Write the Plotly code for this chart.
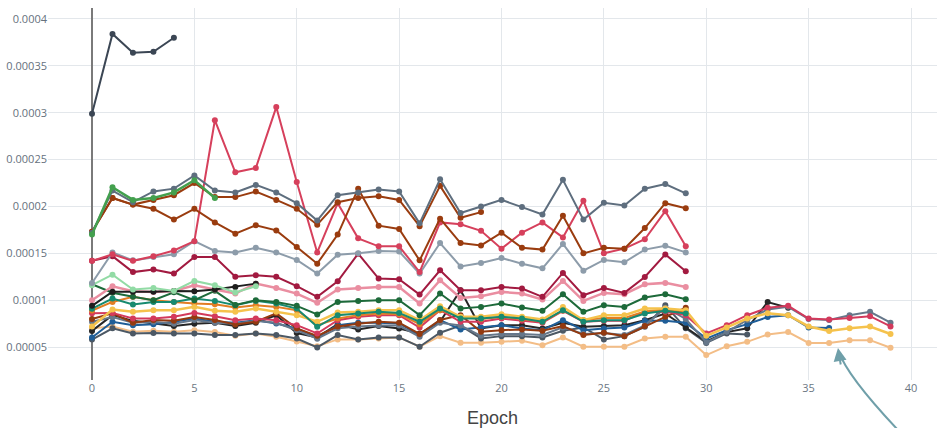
import plotly.graph_objects as go

SCALE = 1e-5  # all series values below are in units of 1e-5

epochs_5 = [0, 1, 2, 3, 4]
epochs_7 = [0, 1, 2, 3, 4, 5, 6]
epochs_9 = [0, 1, 2, 3, 4, 5, 6, 7, 8]
epochs_20 = list(range(20))
epochs_30 = list(range(30))
epochs_33 = list(range(33))
epochs_35 = list(range(35))
epochs_37 = list(range(37))
epochs_40 = list(range(40))

top_dark = [29.9, 38.4, 36.4, 36.5, 38.0]
green_bright = [17.0, 22.05, 20.7, 20.9, 21.5, 22.8, 20.9]
slate = [17.2, 21.7, 20.46, 21.6, 21.9, 23.3, 21.7, 21.5, 22.3, 21.5, 20.35,
         18.5, 21.2, 21.5, 21.8, 21.6, 18.2, 22.9, 19.3, 20.0, 20.7,
         19.93, 19.15, 22.84, 18.6, 20.4, 20.1, 21.9, 22.4, 21.4]
brown_a = [17.3, 20.9, 20.2, 20.7, 21.2, 22.5, 21.0, 21.0, 21.6, 20.7, 19.75,
           18.05, 20.46, 20.9, 21.1, 20.7, 17.9, 22.2, 18.8, 19.4]
brown_b = [17.3, 20.9, 20.2, 19.75, 18.6, 19.75, 18.3, 17.1, 18.0, 17.45, 15.67,
           13.9, 17.0, 21.9, 17.95, 17.6, 14.25, 18.7, 16.1, 15.85, 17.2,
           15.6, 15.4, 19.0, 15.0, 15.6, 15.5, 17.7, 20.35, 19.8]
red_spike = [14.2, 14.9, 14.2, 14.7, 15.3, 16.3, 29.2, 23.65, 24.1, 30.6, 22.6,
             15.1, 20.35, 16.6, 15.75, 15.75, 13.0, 18.3, 18.1, 17.4, 15.5,
             17.2, 18.3, 16.7, 20.6, 15.0, 15.5, 16.5, 19.5, 15.75]
light_gray = [11.84, 15.1, 14.25, 14.6, 14.9, 16.3, 15.25, 15.1, 15.6, 15.1, 14.3,
              12.84, 14.86, 15.0, 15.25, 15.2, 12.84, 16.1, 13.6, 13.97, 14.5,
              13.9, 13.4, 16.0, 13.15, 14.3, 14.05, 15.4, 15.8, 15.1]
maroon = [14.2, 14.7, 13.0, 13.27, 12.84, 14.6, 14.6, 12.5, 12.66, 12.5, 11.5,
          10.36, 12.02, 14.97, 12.31, 12.24, 10.6, 13.19, 11.07, 11.07, 11.42,
          11.24, 10.36, 12.91, 10.53, 11.31, 10.78, 12.48, 14.89, 13.09]
light_green = [11.6, 12.73, 11.14, 11.31, 10.99, 12.06, 11.6, 10.82, 11.49]
black = [9.4, 10.9, 10.9, 10.9, 10.99, 10.95, 11.14, 11.42, 11.77]
pink = [10.0, 11.49, 10.95, 10.89, 10.99, 11.6, 11.14, 10.71, 11.77, 11.31, 10.71,
        9.72, 11.14, 11.31, 11.42, 11.42, 9.65, 12.13, 10.25, 10.43, 10.89,
        10.71, 10.07, 12.06, 9.93, 10.78, 10.64, 11.7, 11.85, 11.42]
dark_green = [11.7, 10.8, 10.36, 10.0, 10.85, 10.0, 11.0, 9.5, 10.0, 9.82, 9.4,
              8.48, 9.82, 9.93, 10.0, 10.0, 8.41, 10.71, 9.11, 9.29, 9.65,
              9.22, 8.87, 10.64, 8.76, 9.47, 9.29, 10.28, 10.64, 10.11]
teal = [9.1, 10.18, 9.54, 9.82, 9.82, 10.18, 9.93, 9.47, 9.93, 9.65, 9.11,
        7.16, 8.41, 8.58, 8.76, 8.65, 7.7, 9.11, 8.05, 8.05, 8.23,
        8.05, 7.7, 8.94, 7.7, 7.87, 7.87, 8.58, 8.87, 8.58]
orange = [8.9, 9.82, 10.36, 10.0, 9.82, 9.65, 9.58, 9.22, 9.47, 9.29, 8.94,
          7.34, 8.05, 8.41, 8.58, 8.51, 7.45, 8.94, 8.2, 8.0, 8.2,
          8.0, 7.7, 8.9, 7.9, 8.1, 8.1, 8.8, 9.0, 8.8]
yellow = [7.2, 9.01, 8.76, 8.94, 8.94, 9.29, 8.87, 8.76, 9.11, 8.76, 8.41,
          7.7, 8.69, 8.76, 8.94, 8.94, 7.87, 9.36, 8.23, 8.23, 8.51,
          8.23, 7.94, 9.29, 7.87, 8.41, 8.41, 9.11, 9.11, 8.94,
          6.2, 7.1, 8.05, 8.6, 8.4, 7.2, 6.73, 7.0, 7.2, 6.4]
brown_low = [8.0, 8.6, 7.6, 7.9, 7.8, 8.2, 7.9, 7.4, 7.7, 8.6, 7.0,
             6.2, 7.2, 7.5, 7.7, 7.6, 6.4, 7.9, 8.41, 6.63, 6.81,
             6.88, 6.74, 7.24, 6.28, 6.53, 6.17, 7.24, 8.23, 9.2]
red_low = [8.6, 8.65, 8.05, 8.05, 8.23, 8.65, 8.3, 7.87, 8.05, 7.87, 7.34,
           6.45, 7.87, 8.23, 8.41, 8.41, 7.09, 8.94, 7.7, 7.7, 8.05,
           7.8, 7.59, 8.87, 7.7, 7.8, 7.8, 8.76, 8.76, 8.41,
           6.46, 7.34, 8.4, 9.2, 9.4, 8.05, 7.94, 8.1, 8.3, 7.2]
slate_low = [7.7, 8.2, 7.6, 7.7, 7.5, 7.9, 7.6, 7.5, 7.8, 7.6, 6.8,
             5.9, 7.0, 7.2, 7.3, 7.3, 6.1, 7.6, 7.3, 6.2, 6.4,
             6.4, 6.3, 7.1, 6.4, 6.5, 6.3, 7.3, 9.2, 8.0,
             5.5, 6.6, 7.9, 9.0, 9.3, 8.0, 7.9, 8.4, 8.76, 7.6]
blue = [6.03, 7.7, 7.34, 7.45, 7.7, 8.05, 7.7, 7.59, 7.87, 7.52, 6.99,
        6.03, 7.34, 7.59, 7.59, 7.52, 6.28, 7.87, 6.88, 7.09, 7.34,
        6.99, 6.81, 7.87, 6.81, 6.99, 7.09, 7.8, 7.8, 7.59,
        5.9, 6.8, 7.45, 8.2, 8.4, 7.1, 7.05]
charcoal = [6.73, 8.41, 7.8, 7.52, 7.24, 7.5, 7.6, 7.24, 7.6, 8.4, 6.5,
            6.03, 7.45, 6.88, 7.24, 6.99, 6.45, 7.7, 11.07, 6.99, 7.34,
            7.34, 6.99, 7.59, 7.16, 7.24, 7.34, 7.87, 8.58, 7.09,
            5.6, 6.6, 7.0, 9.8, 9.2]
dark_gray = [5.8, 7.0, 6.45, 6.5, 6.45, 6.45, 6.28, 6.3, 6.45, 6.28, 5.92,
             4.97, 6.28, 5.82, 6.03, 6.03, 5.04, 6.53, 7.3, 5.92, 6.17,
             6.17, 6.03, 6.74, 7.09, 5.82, 6.17, 7.16, 9.47, 7.0,
             5.45, 6.46, 6.35]
light_orange = [7.0, 7.2, 6.63, 6.74, 6.63, 6.81, 6.6, 6.2, 6.45, 6.1, 5.6,
                5.1, 5.82, 5.82, 5.92, 6.03, 5.04, 6.17, 5.46, 5.46, 5.57,
                5.67, 5.21, 6.03, 5.04, 5.04, 5.04, 5.92, 6.1, 6.1,
                4.15, 5.1, 5.56, 6.35, 6.6, 5.45, 5.45, 5.74, 5.74, 4.93]

y_tick_vals = [0.00005, 0.0001, 0.00015, 0.0002, 0.00025, 0.0003, 0.00035, 0.0004]
y_tick_text = ["0.00005", "0.0001", "0.00015", "0.0002", "0.00025", "0.0003", "0.00035", "0.0004"]
x_tick_vals = [0, 5, 10, 15, 20, 25, 30, 35, 40]

series = [
    (epochs_40, light_orange, "#f3bd86", 2),
    (epochs_33, dark_gray, "#4c5864", 2),
    (epochs_35, charcoal, "#262626", 2),
    (epochs_37, blue, "#1f5e98", 2),
    (epochs_40, slate_low, "#66778a", 2),
    (epochs_30, brown_low, "#933a10", 2),
    (epochs_40, red_low, "#d33a5c", 2),
    (epochs_30, orange, "#e27d24", 2),
    (epochs_40, yellow, "#f5c24c", 2.5),
    (epochs_30, teal, "#178a70", 2),
    (epochs_30, dark_green, "#1d6a3a", 2),
    (epochs_30, pink, "#ea8ea1", 2.5),
    (epochs_9, black, "#1e1e1e", 2),
    (epochs_9, light_green, "#92dba5", 2),
    (epochs_30, maroon, "#a21a40", 2),
    (epochs_30, light_gray, "#8d9caa", 2),
    (epochs_30, red_spike, "#d6405c", 2),
    (epochs_30, brown_b, "#9a3c0f", 2),
    (epochs_20, brown_a, "#9a3c0f", 2),
    (epochs_30, slate, "#5e6e7e", 2),
    (epochs_7, green_bright, "#43a04e", 2.5),
    (epochs_5, top_dark, "#3b4654", 2),
]

fig = go.Figure()
for xs, vals, color, lw in series:
    fig.add_trace(go.Scatter(
        x=xs, y=[v * SCALE for v in vals], mode="lines+markers",
        line=dict(color=color, width=lw),
        marker=dict(color=color, size=6),
        showlegend=False,
    ))

# curved pointer arrow at the lower right
fig.add_shape(type="path", xref="paper", yref="paper",
              path="M 0.9663,-0.16 Q 0.8999,0.005 0.8898,0.075",
              line=dict(color="#6f9fa9", width=2))
fig.add_annotation(xref="paper", yref="paper", x=0.8886, y=0.086,
                   text="", showarrow=True, ax=3, ay=18,
                   arrowhead=2, arrowsize=1.3, arrowwidth=2, arrowcolor="#6f9fa9")

fig.update_layout(
    width=937, height=428,
    margin=dict(l=48, r=0, t=8, b=48),
    paper_bgcolor="white", plot_bgcolor="white",
    font=dict(family="Open Sans, sans-serif", color="#66717d", size=11),
    xaxis=dict(
        range=[-2.149, 41.27], tickvals=x_tick_vals,
        showgrid=True, gridcolor="#e3e7eb", gridwidth=1,
        zeroline=True, zerolinecolor="#7a7a7a", zerolinewidth=1.5,
        showline=False, ticks="",
        tickfont=dict(color="#6c7783"),
        title=dict(text="Epoch", font=dict(size=18, color="#444", family="Liberation Sans, Arial, sans-serif"), standoff=19),
    ),
    yaxis=dict(
        range=[0.0000149, 0.0004117], tickvals=y_tick_vals, ticktext=y_tick_text,
        showgrid=True, gridcolor="#e3e7eb", gridwidth=1,
        zeroline=False, showline=False, ticks="",
    ),
)

fig.write_html("out.html")
